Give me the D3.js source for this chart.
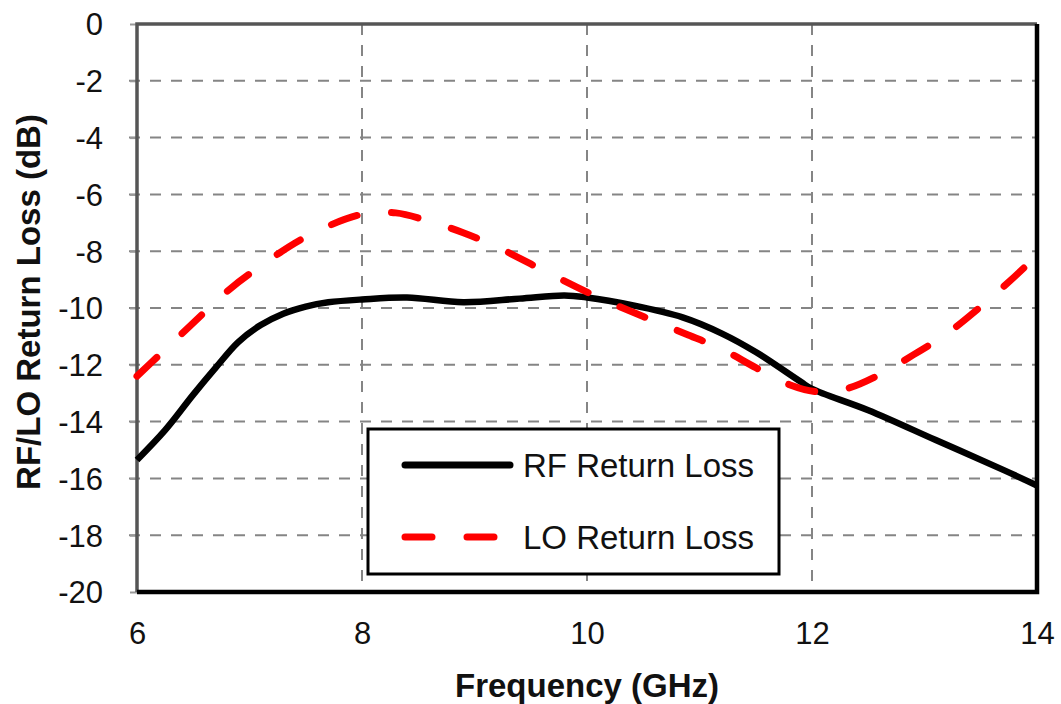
<!DOCTYPE html>
<html>
<head>
<meta charset="utf-8">
<script src="https://cdn.jsdelivr.net/npm/d3@7"></script>
<style>
  body { margin: 0; background: #fff; }
  svg text { font-family: 'Liberation Sans', Arial, sans-serif; }
</style>
</head>
<body>
<div id="chart"></div>
<script>
// RF return loss
const rfFreq = [6, 6.25, 6.5, 6.7, 6.9, 7.1, 7.3, 7.5, 7.7, 8, 8.4, 8.9, 9.4, 9.8, 10.0, 10.4, 10.85, 11.2, 11.5, 11.9, 12.0, 12.5, 13.1, 13.7, 14]
const rfLoss = [-15.35, -14.3, -13.05, -12.1, -11.2, -10.6, -10.2, -9.95, -9.8, -9.7, -9.63, -9.8, -9.67, -9.56, -9.63, -9.9, -10.33, -10.9, -11.55, -12.6, -12.85, -13.6, -14.65, -15.7, -16.25]

// LO return loss
const loFreq = [6, 6.2, 6.4, 6.6, 6.82, 7.0, 7.5, 8.0, 8.3, 8.6, 8.9, 9.2, 9.5, 9.9, 10.2, 10.5, 10.9, 11.2, 11.5, 11.8, 12.05, 12.3, 12.6, 12.9, 13.2, 13.5, 13.8, 14]
const loLoss = [-12.4, -11.65, -10.9, -10.15, -9.35, -8.8, -7.5, -6.7, -6.65, -6.95, -7.35, -7.85, -8.45, -9.25, -9.8, -10.3, -10.95, -11.45, -12.1, -12.7, -12.95, -12.85, -12.35, -11.65, -10.9, -9.95, -8.9, -8.15]

const xTicks = [6, 8, 10, 12, 14]
const yTicks = [0, -2, -4, -6, -8, -10, -12, -14, -16, -18, -20]
const seriesNames = ['RF Return Loss', 'LO Return Loss']

const W = 1061
const H = 704
const margin = { top: 24, right: 24, bottom: 112, left: 137 }

const svg = d3.select('#chart').append('svg')
  .attr('width', W)
  .attr('height', H)

const x = d3.scaleLinear().domain([6, 14]).range([margin.left, W - margin.right])
const y = d3.scaleLinear().domain([-20, 0]).range([H - margin.bottom, margin.top])

// grid
const grid = svg.append('g')
grid.selectAll('line.h')
  .data(yTicks.filter(d => d !== 0 && d !== -20))
  .join('line')
  .attr('x1', x(6) - 8)
  .attr('x2', x(14))
  .attr('y1', d => y(d))
  .attr('y2', d => y(d))
grid.selectAll('line.v')
  .data(xTicks.filter(d => d !== 6 && d !== 14))
  .join('line')
  .attr('class', 'v')
  .attr('x1', d => x(d))
  .attr('x2', d => x(d))
  .attr('y1', y(0))
  .attr('y2', y(-20))
grid.selectAll('line')
  .attr('stroke', '#858585')
  .attr('stroke-width', 2)
  .attr('stroke-dasharray', '11 10')

// axes (labels only, frame drawn by hand)
const yAxis = svg.append('g')
  .attr('transform', `translate(${margin.left},0)`)
  .call(d3.axisLeft(y).tickValues(yTicks).tickSize(7).tickPadding(27).tickFormat(d => String(d)))
yAxis.select('.domain').remove()
yAxis.selectAll('line').attr('stroke', '#999').attr('stroke-width', 2)
yAxis.selectAll('text').attr('font-size', 31).attr('fill', '#111').attr('dy', '0.35em')

const xAxis = svg.append('g')
  .attr('transform', `translate(0,${H - margin.bottom})`)
  .call(d3.axisBottom(x).tickValues(xTicks).tickSize(0).tickPadding(30).tickFormat(d => String(d)))
xAxis.select('.domain').remove()
xAxis.selectAll('text').attr('font-size', 31).attr('fill', '#111')

// frame
svg.append('path')
  .attr('d', `M${x(6)},${y(-20)}V${y(0)}H${x(14)}`)
  .attr('fill', 'none')
  .attr('stroke', '#555')
  .attr('stroke-width', 3.5)
svg.append('path')
  .attr('d', `M${x(6)},${y(-20)}H${x(14)}V${y(0)}`)
  .attr('fill', 'none')
  .attr('stroke', '#000')
  .attr('stroke-width', 4.5)

const line = d3.line()
  .x(d => x(d[0]))
  .y(d => y(d[1]))
  .curve(d3.curveCatmullRom.alpha(0.5))

svg.append('path')
  .datum(d3.zip(rfFreq, rfLoss))
  .attr('d', line)
  .attr('fill', 'none')
  .attr('stroke', '#000')
  .attr('stroke-width', 6.5)
  .attr('stroke-linejoin', 'round')

svg.append('path')
  .datum(d3.zip(loFreq, loLoss))
  .attr('d', line)
  .attr('fill', 'none')
  .attr('stroke', '#ff0000')
  .attr('stroke-width', 7)
  .attr('stroke-linecap', 'round')
  .attr('stroke-dasharray', '27 35')

// legend
const lg = svg.append('g')
lg.append('rect')
  .attr('x', 368)
  .attr('y', 429)
  .attr('width', 411)
  .attr('height', 145)
  .attr('fill', '#fff')
  .attr('stroke', '#000')
  .attr('stroke-width', 3)
const legendRows = [
  { name: seriesNames[0], color: '#000', dash: null, yy: 465 },
  { name: seriesNames[1], color: '#ff0000', dash: '27 35', yy: 537 }
]
legendRows.forEach(r => {
  lg.append('line')
    .attr('x1', 405).attr('x2', 510)
    .attr('y1', r.yy).attr('y2', r.yy)
    .attr('stroke', r.color)
    .attr('stroke-width', 7)
    .attr('stroke-linecap', 'round')
    .attr('stroke-dasharray', r.dash)
  lg.append('text')
    .attr('x', 523)
    .attr('y', r.yy + 12)
    .attr('font-size', 33)
    .attr('fill', '#111')
    .text(r.name)
})

// titles
svg.append('text')
  .attr('x', x(10))
  .attr('y', 697)
  .attr('text-anchor', 'middle')
  .attr('font-size', 33)
  .attr('font-weight', 'bold')
  .attr('fill', '#111')
  .text('Frequency (GHz)')

svg.append('text')
  .attr('transform', `translate(40,${(y(0) + y(-20)) / 2 - 6}) rotate(-90)`)
  .attr('text-anchor', 'middle')
  .attr('font-size', 33)
  .attr('font-weight', 'bold')
  .attr('fill', '#111')
  .text('RF/LO Return Loss (dB)')
</script>
</body>
</html>
